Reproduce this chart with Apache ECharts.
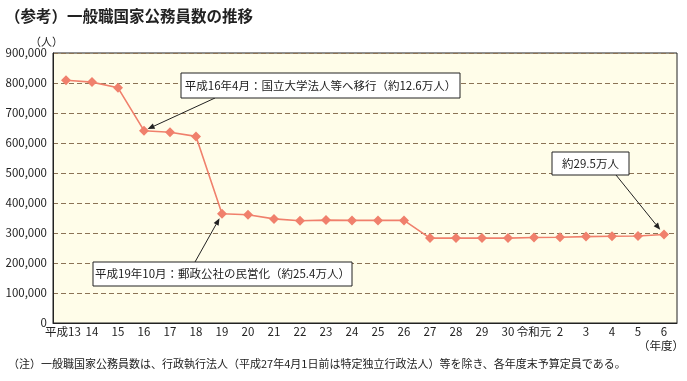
<!DOCTYPE html>
<html><head><meta charset="utf-8">
<script src="https://cdn.jsdelivr.net/npm/echarts@6/dist/echarts.min.js"></script>
<style>html,body{margin:0;padding:0;background:#fff}#c{width:687px;height:381px}</style>
</head><body><div id="c"></div>
<script>
const categories = ['平成13','14','15','16','17','18','19','20','21','22','23','24','25','26','27','28','29','30','令和元','2','3','4','5','6'];
const staffCounts = [809000,803000,784000,641000,636000,622000,364000,361000,347000,341000,343000,342000,342000,342000,283000,283000,283000,283000,285000,286000,288000,289000,290000,295000];
const yTicks = [0,100000,200000,300000,400000,500000,600000,700000,800000,900000];

const FONT = '"Noto Sans CJK JP", "Noto Sans", sans-serif';
const chart = echarts.init(document.getElementById('c'), null, {renderer:'canvas'});
const lineColor = '#F0806C';
chart.setOption({
  backgroundColor:'#fff',
  animation:false,
  textStyle:{fontFamily:FONT},
  grid:{left:53,right:10,top:53,bottom:58,show:true,backgroundColor:'#FFFDE9',borderColor:'#222',borderWidth:1},
  xAxis:{type:'category',data:categories,boundaryGap:true,
    axisLine:{lineStyle:{color:'#222',width:1}},
    axisTick:{inside:true,length:5,interval:0,lineStyle:{color:'#222'}},
    axisLabel:{color:'#222',fontSize:11.5,margin:3,interval:0,fontFamily:FONT,
      formatter:(v,i)=> i===0 ? '{f|'+v+'}' : v,
      rich:{f:{fontSize:11.5,color:'#222',fontFamily:FONT,padding:[0,6,0,0]}}}},
  yAxis:{type:'value',min:0,max:900000,interval:100000,
    axisLine:{show:true,lineStyle:{color:'#222'}},axisTick:{show:false},
    axisLabel:{color:'#222',fontSize:11.5,margin:6,fontFamily:FONT,formatter:v=>v.toLocaleString('en-US')},
    splitLine:{show:true,lineStyle:{color:'#8B7355',type:[5,3],width:1}}},
  series:[{type:'line',data:staffCounts,symbol:'diamond',symbolSize:10,
    lineStyle:{color:lineColor,width:1.6},itemStyle:{color:lineColor}}]
});

function arrow(x1,y1,px,py,gap){
  const dx=px-x1, dy=py-y1, L=Math.hypot(dx,dy), ux=dx/L, uy=dy/L;
  const tx=px-ux*gap, ty=py-uy*gap;
  const h=7, w=2.8;
  const bx=tx-ux*h, by=ty-uy*h;
  return [
    {type:'line',shape:{x1:x1,y1:y1,x2:bx,y2:by},style:{stroke:'#222',lineWidth:1},z:10},
    {type:'polygon',shape:{points:[[tx,ty],[bx-uy*w,by+ux*w],[bx+uy*w,by-ux*w]]},style:{fill:'#222'},z:10}
  ];
}
function box(x,y,w,h,text){
  return [
    {type:'rect',shape:{x:x,y:y,width:w,height:h},style:{fill:'#fff',stroke:'#222',lineWidth:1},z:11},
    {type:'text',x:x+w/2,y:y+h/2,style:{text:text,fill:'#222',font:'11.5px '+FONT,align:'center',verticalAlign:'middle'},z:12}
  ];
}
const p16 = chart.convertToPixel({gridIndex:0},[3,staffCounts[3]]);
const p19 = chart.convertToPixel({gridIndex:0},[6,staffCounts[6]]);
const p6 = chart.convertToPixel({gridIndex:0},[23,staffCounts[23]]);
let els = [];
els = els.concat(arrow(215,98,p16[0],p16[1],4));
els = els.concat(arrow(195,262,p19[0],p19[1],5));
els = els.concat(arrow(616,175,p6[0],p6[1],6));
els = els.concat(box(181,73,279,25,'平成16年4月：国立大学法人等へ移行（約12.6万人）'));
els = els.concat(box(93,262,259,24,'平成19年10月：郵政公社の民営化（約25.4万人）'));
els = els.concat(box(552,152,77,23,'約29.5万人'));
els.push({type:'text',x:5,y:8,style:{text:'（参考）一般職国家公務員数の推移',fill:'#222',font:'bold 15.5px '+FONT},z:12});
els.push({type:'text',x:30,y:36,style:{text:'（人）',fill:'#222',font:'11px '+FONT},z:12});
els.push({type:'text',x:684,y:340,style:{text:'（年度）',fill:'#222',font:'11.5px '+FONT,align:'right'},z:12});
els.push({type:'text',x:8,y:358,style:{text:'（注）一般職国家公務員数は、行政執行法人（平成27年4月1日前は特定独立行政法人）等を除き、各年度末予算定員である。',fill:'#222',font:'11px '+FONT},z:12});
chart.setOption({graphic:{elements:els}});
</script></body></html>
